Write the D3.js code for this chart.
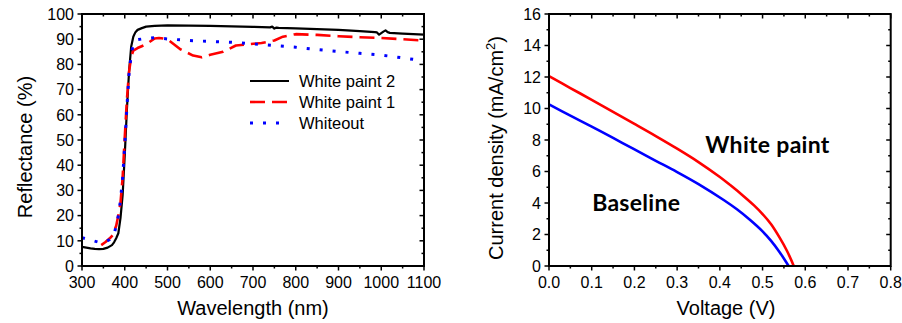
<!DOCTYPE html>
<html>
<head>
<meta charset="utf-8">
<script src="https://cdn.jsdelivr.net/npm/d3@7"></script>
<style>
  html, body { margin: 0; padding: 0; background: #fff; }
  svg { display: block; }
  .tick-label { font-family: "Liberation Sans", Arial, sans-serif; font-size: 16px; fill: #000; }
  .axis-title { font-family: "Liberation Sans", Arial, sans-serif; font-size: 20px; fill: #000; }
  .legend-text { font-family: "Liberation Sans", Arial, sans-serif; font-size: 16.5px; fill: #000; }
  .note { font-family: Lato, "Open Sans", sans-serif; font-weight: 700; font-size: 23px; letter-spacing: 0.3px; fill: #000; }
</style>
</head>
<body>
<svg id="chart" width="902" height="323"></svg>
<script>
// ---------- Reflectance spectra (left panel) ----------
const wlPaint2 = [300,310,320,330,340,350,360,370,375,380,385,390,395,400,405,410,415,420,425,430,440,450,470,500,550,600,650,700,740,745,750,755,760,800,850,900,950,985,990,995,1000,1005,1010,1015,1020,1050,1100];
const rPaint2  = [7.6,7.3,7.0,6.8,6.7,6.8,7.3,8.3,9.4,11,13,19,28,44,62,77,87,91,92.8,93.7,94.4,95,95.3,95.5,95.4,95.3,95.1,94.9,94.7,95.0,94.2,94.6,94.5,94.3,94.0,93.7,93.2,92.8,92.7,91.8,92.4,93.0,93.5,92.8,92.5,92.2,91.8];

const wlPaint1 = [345,355,365,372,380,385,390,395,400,405,410,415,420,430,450,470,480,500,530,560,580,600,630,660,690,720,750,770,800,850,900,950,1000,1050,1100];
const rPaint1  = [8.3,9.5,11,12.3,16,20,25,35,51,66,77,83,85.5,86.5,88,90.3,90.5,90,86,83.5,82.8,83.8,85,87.5,88,88.5,89.5,91,92,91.7,91.2,90.8,90.5,90,89.4];

const wlWhiteout = [300,320,340,355,365,375,380,385,390,395,400,405,410,415,420,430,445,470,500,550,600,650,700,750,800,850,900,950,1000,1050,1100];
const rWhiteout  = [11.2,10.3,9.4,9.6,10.5,12.5,16,20,26,35,48,63,76,84,88,89.8,90.2,90.6,90.1,89.5,89.1,88.8,88.2,87.5,86.8,85.9,85.1,84.4,83.7,82.6,81.4];

const legendNames = ["White paint 2", "White paint 1", "Whiteout"];

// ---------- J–V curves (right panel) ----------
const vWhitePaint = [0,0.05,0.1,0.15,0.2,0.25,0.3,0.35,0.4,0.425,0.455,0.48,0.5,0.52,0.54,0.557,0.573];
const jWhitePaint = [12.06,11.3,10.55,9.78,9.02,8.25,7.45,6.6,5.65,5.12,4.45,3.85,3.3,2.65,1.8,0.97,0];

const vBaseline = [0,0.05,0.1,0.15,0.198,0.25,0.299,0.35,0.409,0.44,0.471,0.5,0.52,0.54,0.561];
const jBaseline = [10.26,9.55,8.85,8.13,7.43,6.68,5.98,5.2,4.19,3.6,2.92,2.2,1.6,0.88,0];

const wlTicks = [300,400,500,600,700,800,900,1000,1100];
const rTicks  = [0,10,20,30,40,50,60,70,80,90,100];
const vTicks  = [0,0.1,0.2,0.3,0.4,0.5,0.6,0.7,0.8];
const jTicks  = [0,2,4,6,8,10,12,14,16];

const svg = d3.select("#chart");

// Frame with Origin-style ticks: outward on left/bottom, inward on top/right.
function drawFrame(g, x, y, xTicks, yTicks, xMinorStep, yMinorStep, xFmt, yFmt) {
  const [x0, x1] = x.range();
  const [y0, y1] = y.range(); // y0 bottom, y1 top
  const major = 4.5, minor = 2.5;
  const xd = x.domain(), yd = y.domain();
  const xMinor = d3.range(xd[0], xd[1] + xMinorStep / 2, xMinorStep);
  const yMinor = d3.range(yd[0], yd[1] + yMinorStep / 2, yMinorStep);
  const isMajor = (v, arr) => arr.some(t => Math.abs(t - v) < 1e-9);
  const tg = g.append("g").attr("stroke", "#000").attr("stroke-width", 1.5);

  xMinor.forEach(v => {
    const len = isMajor(v, xTicks) ? major : minor;
    const px = x(v);
    tg.append("line").attr("x1", px).attr("x2", px).attr("y1", y0).attr("y2", y0 + len);
    tg.append("line").attr("x1", px).attr("x2", px).attr("y1", y1).attr("y2", y1 + len);
  });
  yMinor.forEach(v => {
    const len = isMajor(v, yTicks) ? major : minor;
    const py = y(v);
    tg.append("line").attr("x1", x0).attr("x2", x0 - len).attr("y1", py).attr("y2", py);
    tg.append("line").attr("x1", x1).attr("x2", x1 - len).attr("y1", py).attr("y2", py);
  });

  g.append("rect")
    .attr("x", x0).attr("y", y1)
    .attr("width", x1 - x0).attr("height", y0 - y1)
    .attr("fill", "none").attr("stroke", "#000").attr("stroke-width", 2);

  g.append("g").selectAll("text").data(xTicks).join("text")
    .attr("class", "tick-label")
    .attr("x", d => x(d)).attr("y", y0 + 22)
    .attr("text-anchor", "middle")
    .text(xFmt);
  g.append("g").selectAll("text").data(yTicks).join("text")
    .attr("class", "tick-label")
    .attr("x", x0 - 8).attr("y", d => y(d) + 5.8)
    .attr("text-anchor", "end")
    .text(yFmt);
}

// ----- Left panel -----
const xL = d3.scaleLinear().domain([300, 1100]).range([82, 424]);
const yL = d3.scaleLinear().domain([0, 100]).range([266, 14]);
const gL = svg.append("g");

const lineL = d3.line().x(d => xL(d[0])).y(d => yL(d[1]));
const spectra = [
  { name: legendNames[0], wl: wlPaint2,   r: rPaint2,   color: "#000000", width: 2.2, dash: null },
  { name: legendNames[1], wl: wlPaint1,   r: rPaint1,   color: "#ff0000", width: 2.6, dash: "15,7" },
  { name: legendNames[2], wl: wlWhiteout, r: rWhiteout, color: "#0000ff", width: 3,   dash: "3,10" }
];
svg.append("clipPath").attr("id", "clipL").append("rect")
  .attr("x", 82).attr("y", 14).attr("width", 342).attr("height", 252);
spectra.forEach(s => {
  gL.append("path")
    .attr("clip-path", "url(#clipL)")
    .attr("d", lineL(d3.zip(s.wl, s.r)))
    .attr("fill", "none")
    .attr("stroke", s.color)
    .attr("stroke-width", s.width)
    .attr("stroke-dasharray", s.dash)
    .attr("stroke-linejoin", "round");
});

drawFrame(gL, xL, yL, wlTicks, rTicks, 50, 5, d => d, d => d);

// legend
const leg = gL.append("g").attr("transform", "translate(250,81)");
spectra.forEach((s, i) => {
  leg.append("line")
    .attr("x1", 0).attr("x2", 39).attr("y1", i * 21).attr("y2", i * 21)
    .attr("stroke", s.color).attr("stroke-width", s.width)
    .attr("stroke-dasharray", s.dash);
  leg.append("text").attr("class", "legend-text")
    .attr("x", 49).attr("y", i * 21 + 6.2)
    .text(s.name);
});

gL.append("text").attr("class", "axis-title")
  .attr("x", 253).attr("y", 315).attr("text-anchor", "middle")
  .text("Wavelength (nm)");
gL.append("text").attr("class", "axis-title")
  .attr("transform", "translate(32,147) rotate(-90)")
  .attr("text-anchor", "middle")
  .text("Reflectance (%)");

// ----- Right panel -----
const xR = d3.scaleLinear().domain([0, 0.8]).range([549, 890.7]);
const yR = d3.scaleLinear().domain([0, 16]).range([266, 14]);
const gR = svg.append("g");
const lineR = d3.line().x(d => xR(d[0])).y(d => yR(d[1])).curve(d3.curveCatmullRom.alpha(0.5));

gR.append("path")
  .attr("d", lineR(d3.zip(vBaseline, jBaseline)))
  .attr("fill", "none").attr("stroke", "#0000ff").attr("stroke-width", 2.6);
gR.append("path")
  .attr("d", lineR(d3.zip(vWhitePaint, jWhitePaint)))
  .attr("fill", "none").attr("stroke", "#ff0000").attr("stroke-width", 2.6);

drawFrame(gR, xR, yR, vTicks, jTicks, 0.05, 1, d => d3.format(".1f")(d), d => d);

gR.append("text").attr("class", "note")
  .attr("x", xR(0.366)).attr("y", yR(7.17))
  .text("White paint");
gR.append("text").attr("class", "note")
  .attr("x", xR(0.101)).attr("y", yR(3.5))
  .text("Baseline");

gR.append("text").attr("class", "axis-title")
  .attr("x", 726).attr("y", 315).attr("text-anchor", "middle")
  .text("Voltage (V)");
const yt = gR.append("text").attr("class", "axis-title")
  .attr("transform", "translate(503,148) rotate(-90)")
  .attr("text-anchor", "middle");
yt.append("tspan").text("Current density (mA/cm");
yt.append("tspan").attr("font-size", "13px").attr("dy", -8).text("2");
yt.append("tspan").attr("dy", 8).text(")");
</script>
</body>
</html>
